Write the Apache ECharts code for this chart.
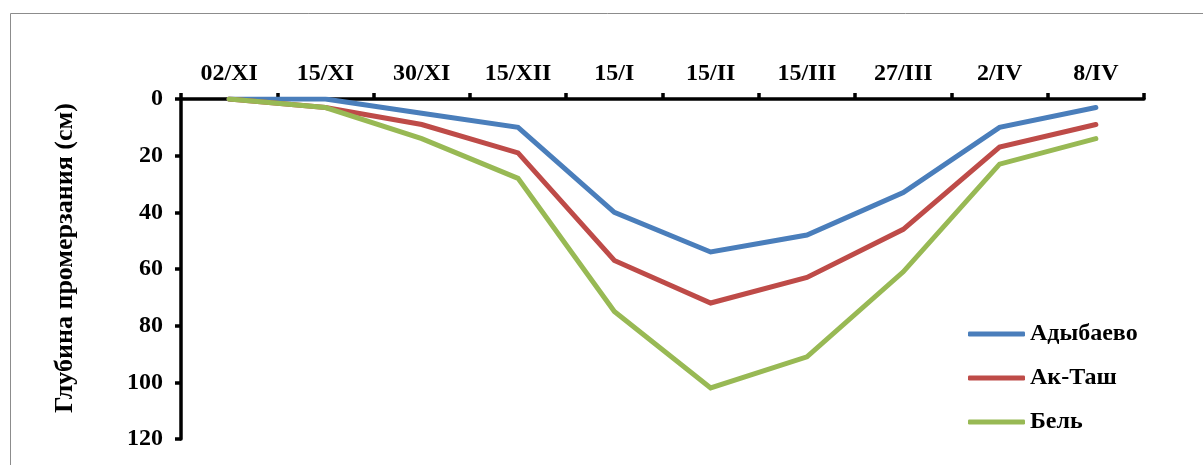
<!DOCTYPE html>
<html>
<head>
<meta charset="utf-8">
<script src="https://cdn.jsdelivr.net/npm/echarts@6/dist/echarts.min.js"></script>
<style>
  html, body { margin: 0; padding: 0; background: #fff; }
  #chart { width: 1203px; height: 465px; }
</style>
</head>
<body>
<div id="chart"></div>
<script>
// Observation dates
const dates = ['02/XI', '15/XI', '30/XI', '15/XII', '15/I', '15/II', '15/III', '27/III', '2/IV', '8/IV'];

// Freezing depth, cm
const adybaevo = [0, 0, 5, 10, 40, 54, 48, 33, 10, 3];
const akTash   = [0, 3, 9, 19, 57, 72, 63, 46, 17, 9];
const bel      = [0, 3, 14, 28, 75, 102, 91, 61, 23, 14];

const seriesNames = ['Адыбаево', 'Ак-Таш', 'Бель'];
const seriesColors = ['#4a7ebb', '#be4b48', '#98b954'];

const depthTicks = { min: 0, max: 120, interval: 20 };

const FONT = '"Liberation Serif", "Times New Roman", serif';

const chart = echarts.init(document.getElementById('chart'), null, { renderer: 'canvas' });

const mkLine = (name, data, color) => ({
  name: name,
  type: 'line',
  data: data,
  symbol: 'none',
  lineStyle: { color: color, width: 5, cap: 'round', join: 'miter' },
  itemStyle: { color: color },
  emphasis: { disabled: true }
});

chart.setOption({
  backgroundColor: '#ffffff',
  animation: false,
  graphic: [{
    type: 'rect',
    shape: { x: 10.5, y: 13.5, width: 1200, height: 470 },
    style: { fill: 'none', stroke: '#8c8c8c', lineWidth: 1 },
    silent: true,
    z: -1
  }],
  grid: { left: 181, top: 99, width: 963, height: 340 },
  xAxis: {
    type: 'category',
    position: 'top',
    data: dates,
    boundaryGap: true,
    axisLine: { onZero: false, lineStyle: { color: '#000', width: 3.5 } },
    axisTick: { show: true, length: 6, lineStyle: { color: '#000', width: 3.5 } },
    axisLabel: {
      color: '#000', fontFamily: FONT, fontWeight: 'bold', fontSize: 24, margin: 13
    },
    splitLine: { show: false }
  },
  yAxis: {
    type: 'value',
    inverse: true,
    min: depthTicks.min,
    max: depthTicks.max,
    interval: depthTicks.interval,
    name: 'Глубина промерзания (см)',
    nameLocation: 'middle',
    nameGap: 103,
    nameRotate: 90,
    nameTextStyle: {
      color: '#000', fontFamily: FONT, fontWeight: 'bold', fontSize: 26,
      padding: [0, 0, 0, 22]
    },
    axisLine: { show: true, lineStyle: { color: '#000', width: 3.5 } },
    axisTick: { show: true, length: 6, lineStyle: { color: '#000', width: 3.5 } },
    axisLabel: {
      color: '#000', fontFamily: FONT, fontWeight: 'bold', fontSize: 24, margin: 18
    },
    splitLine: { show: false }
  },
  legend: {
    orient: 'vertical',
    left: 963,
    top: 317,
    itemWidth: 57,
    itemHeight: 5,
    itemGap: 20,
    icon: 'roundRect',
    data: seriesNames,
    textStyle: { color: '#000', fontFamily: FONT, fontWeight: 'bold', fontSize: 24, lineHeight: 24 }
  },
  series: [
    mkLine(seriesNames[0], adybaevo, seriesColors[0]),
    mkLine(seriesNames[1], akTash, seriesColors[1]),
    mkLine(seriesNames[2], bel, seriesColors[2])
  ]
});
</script>
</body>
</html>
